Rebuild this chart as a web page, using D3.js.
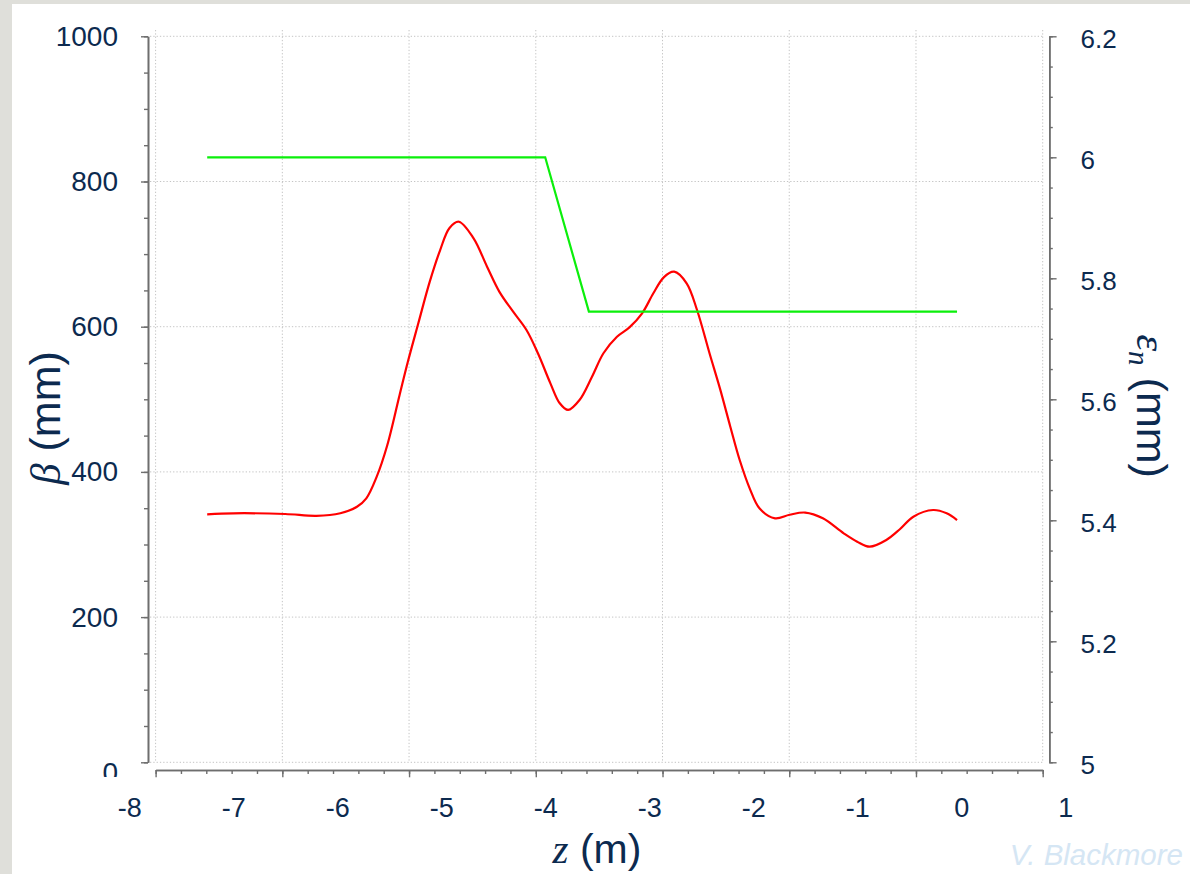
<!DOCTYPE html>
<html>
<head>
<meta charset="utf-8">
<title>Beta and emittance</title>
<script src="https://d3js.org/d3.v7.min.js"></script>
<style>
  body { margin: 0; background: #ffffff; }
  svg { display: block; }
</style>
</head>
<body>
<div id="chart"></div>
<script>
// beta function (mm) along z (m)
const zBeta = [-7.25, -7.0, -6.5, -6.2, -5.97, -5.81, -5.72, -5.62, -5.52, -5.40,
  -5.32, -5.22, -5.11, -5.01, -4.92, -4.83, -4.69, -4.56, -4.44, -4.31,
  -4.18, -4.07, -3.95, -3.86, -3.78, -3.67, -3.55, -3.44, -3.31, -3.19,
  -3.07, -2.96, -2.86, -2.76, -2.64, -2.54, -2.42, -2.32, -2.22, -2.13,
  -2.03, -1.94, -1.79, -1.65, -1.50, -1.33, -1.13, -1.00, -0.88, -0.72,
  -0.59, -0.46, -0.27, -0.14, -0.04];
const beta = [341.6, 343, 342, 339.5, 343, 352, 363.6, 393.4, 436, 506,
  552, 604.7, 662, 705.6, 736, 744.6, 722, 683, 648, 621,
  595.5, 563.4, 522, 494.5, 485.3, 499, 531.1, 563.4, 586.2, 599,
  618, 646, 668, 675.8, 659.8, 623, 563.4, 515, 462.3, 416.4,
  376, 349.9, 336.1, 341, 344, 336.1, 315.4, 303.9, 297, 306.2,
  321, 338.3, 347.5, 343, 333.7];

// normalised emittance (mm)
const zEps = [-7.25, -4.0, -3.58, -0.04];
const eps = [6.0, 6.0, 5.745, 5.745];

// tick labels
const xTickLabels = [-8, -7, -6, -5, -4, -3, -2, -1, 0, 1];
const yLeftTicks = [0, 200, 400, 600, 800, 1000];
const yRightTicks = [5, 5.2, 5.4, 5.6, 5.8, 6, 6.2];

const W = 1190, H = 874;
const textColor = "#0c2a4f";
const axisColor = "#6e6e6e";
let serif = "'Liberation Serif', 'DejaVu Serif', serif";
let sans = "'Liberation Sans', Arial, sans-serif";

const svg = d3.select("#chart").append("svg")
    .attr("width", W).attr("height", H);

// page background
svg.append("rect").attr("width", W).attr("height", H).attr("fill", "#dfdfda");
svg.append("rect").attr("x", 12).attr("y", 4)
    .attr("width", W - 12).attr("height", H - 4).attr("fill", "#ffffff");

// scales
let x = d3.scaleLinear().domain([-8, 1]).range([129.2, 1065.2]);
let frame = d3.scaleLinear().domain([0, 7]).range([155.6, 1042.7]); // grid / tick frame
let yL = d3.scaleLinear().domain([0, 1000]).range([762.3, 36.3]);
let yR = d3.scaleLinear().domain([5, 6.2]).range([762.3, 36.3]);

// grid
let grid = svg.append("g")
    .attr("stroke", "#c4c4c4").attr("stroke-width", 1)
    .attr("stroke-dasharray", "1.3,2");
grid.selectAll("line.v").data(d3.range(0, 8)).enter().append("line")
    .attr("class", "v")
    .attr("x1", d => frame(d)).attr("x2", d => frame(d))
    .attr("y1", 30).attr("y2", yL(0));
grid.selectAll("line.h").data(yLeftTicks).enter().append("line")
    .attr("class", "h")
    .attr("x1", 150).attr("x2", frame(7))
    .attr("y1", d => yL(d)).attr("y2", d => yL(d));

function styleAxis(g, size) {
    g.attr("font-size", size).attr("font-family", sans);
    g.selectAll("path.domain").attr("stroke", axisColor).attr("stroke-width", 1.6);
    g.selectAll(".tick line").attr("stroke", axisColor).attr("stroke-width", 1.4);
    g.selectAll("text").attr("fill", textColor);
}

// left axis
svg.append("clipPath").attr("id", "leftclip")
    .append("rect").attr("x", 0).attr("y", 0).attr("width", 200).attr("height", 777);

let leftG = svg.append("g").attr("clip-path", "url(#leftclip)");
leftG.append("g")
    .attr("transform", "translate(148,0)")
    .call(d3.axisLeft(yL).tickValues(d3.range(0, 1001, 50)).tickSize(4)
        .tickSizeOuter(0).tickFormat(""))
    .call(styleAxis, 28);
leftG.append("g")
    .attr("transform", "translate(148,0)")
    .call(d3.axisLeft(yL).tickValues(yLeftTicks).tickSize(7)
        .tickSizeOuter(0).tickPadding(23).tickFormat(d => String(d)))
    .call(styleAxis, 28)
    .call(g => g.selectAll("text").filter(d => d === 0).attr("dy", "0.7em"));

// right axis
svg.append("g")
    .attr("transform", "translate(1049.3,0)")
    .call(d3.axisRight(yR).tickValues(d3.range(0, 25).map(i => 5 + i * 0.05)).tickSize(3.5)
        .tickSizeOuter(0).tickFormat(""))
    .call(styleAxis, 26);
svg.append("g")
    .attr("transform", "translate(1049.3,0)")
    .call(d3.axisRight(yR).tickValues(yRightTicks).tickSize(7.3)
        .tickSizeOuter(0).tickPadding(24).tickFormat(d3.format("~g")))
    .call(styleAxis, 26)
    .call(g => g.selectAll("text").attr("dy", "0.43em"));

// bottom axis: tick frame
svg.append("g")
    .attr("transform", "translate(0,770)")
    .call(d3.axisBottom(frame).tickValues(d3.range(0, 36).map(i => i * 0.2)).tickSize(4)
        .tickSizeOuter(0).tickFormat(""))
    .call(styleAxis, 27);
svg.append("g")
    .attr("transform", "translate(0,770)")
    .call(d3.axisBottom(frame).tickValues(d3.range(0, 8)).tickSize(7.3)
        .tickSizeOuter(0).tickFormat(""))
    .call(styleAxis, 27);
// bottom axis labels
svg.append("g")
    .attr("transform", "translate(0,770)")
    .call(d3.axisBottom(x).tickValues(xTickLabels).tickSize(0)
        .tickPadding(27.5).tickFormat(d => String(d)))
    .call(styleAxis, 27)
    .call(g => g.select("path.domain").remove());

// curves
let betaLine = d3.line()
    .x((d, i) => x(zBeta[i]))
    .y(d => yL(d))
    .curve(d3.curveCatmullRom.alpha(0.5));
svg.append("path")
    .attr("d", betaLine(beta))
    .attr("fill", "none").attr("stroke", "#ff0000").attr("stroke-width", 2.2);

let epsLine = d3.line()
    .x((d, i) => x(zEps[i]))
    .y(d => yR(d));
svg.append("path")
    .attr("d", epsLine(eps))
    .attr("fill", "none").attr("stroke", "#0bef0b").attr("stroke-width", 2.2);

// axis titles
let yTitle = svg.append("text")
    .attr("transform", "translate(60,418) rotate(-90)")
    .attr("text-anchor", "middle")
    .attr("fill", textColor)
    .attr("font-family", sans)
    .attr("font-size", 43);
yTitle.append("tspan").attr("font-family", serif).attr("font-style", "italic").text("β");
yTitle.append("tspan").text(" (mm)");

let rTitle = svg.append("text")
    .attr("transform", "translate(1137,406) rotate(90)")
    .attr("text-anchor", "middle")
    .attr("fill", textColor)
    .attr("font-family", sans)
    .attr("font-size", 43);
rTitle.append("tspan").attr("font-family", serif).attr("font-style", "italic").text("ε");
rTitle.append("tspan").attr("font-family", serif).attr("font-style", "italic")
    .attr("font-size", 29).attr("dy", 8).text("n");
rTitle.append("tspan").attr("dy", -8).text(" (mm)");

let xTitle = svg.append("text")
    .attr("x", 597).attr("y", 863)
    .attr("text-anchor", "middle")
    .attr("fill", textColor)
    .attr("font-family", sans)
    .attr("font-size", 41);
xTitle.append("tspan").attr("font-family", serif).attr("font-style", "italic").text("z");
xTitle.append("tspan").text(" (m)");

// credit
svg.append("text")
    .attr("x", 1183).attr("y", 865)
    .attr("text-anchor", "end")
    .attr("fill", "#d5e6f4")
    .attr("font-family", sans)
    .attr("font-style", "italic")
    .attr("font-size", 29.5)
    .text("V. Blackmore");
</script>
</body>
</html>
